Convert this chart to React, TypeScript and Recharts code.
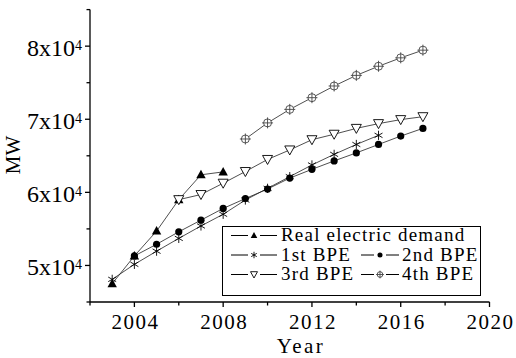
import React from 'react';
import { LineChart, Line, XAxis, YAxis, Legend } from 'recharts';

// ---- data ----
const years = [2003, 2004, 2005, 2006, 2007, 2008, 2009, 2010, 2011, 2012, 2013, 2014, 2015, 2016, 2017];
const realYears = [2003, 2004, 2005, 2006, 2007, 2008];
const realDemand = [47500, 51300, 54700, 59000, 62400, 62800];
const bpe1Years = [2003, 2004, 2005, 2006, 2007, 2008, 2009, 2010, 2011, 2012, 2013, 2014, 2015];
const bpe1 = [48100, 50150, 51950, 53700, 55400, 57000, 58950, 60550, 62150, 63750, 65200, 66550, 67800];
const bpe2Years = [2004, 2005, 2006, 2007, 2008, 2009, 2010, 2011, 2012, 2013, 2014, 2015, 2016, 2017];
const bpe2 = [51300, 52900, 54600, 56200, 57800, 59150, 60450, 61950, 63150, 64300, 65400, 66550, 67700, 68750];
const bpe3Years = [2006, 2007, 2008, 2009, 2010, 2011, 2012, 2013, 2014, 2015, 2016, 2017];
const bpe3 = [59000, 59700, 61250, 62850, 64500, 65800, 67200, 67950, 68750, 69400, 69950, 70350];
const bpe4Years = [2009, 2010, 2011, 2012, 2013, 2014, 2015, 2016, 2017];
const bpe4 = [67300, 69500, 71350, 72950, 74550, 76000, 77250, 78400, 79450];

const xTicks = [2002, 2004, 2006, 2008, 2010, 2012, 2014, 2016, 2018, 2020];
const yTicks = [45000, 50000, 55000, 60000, 65000, 70000, 75000, 80000, 85000];
const seriesNames = ['Real electric demand', '1st BPE', '2nd BPE', '3rd BPE', '4th BPE'];

const pick = (ys: number[], vs: number[], y: number) => {
  const i = ys.indexOf(y);
  return i >= 0 ? vs[i] : undefined;
};

const data = years.map((y) => ({
  year: y,
  real: pick(realYears, realDemand, y),
  bpe1: pick(bpe1Years, bpe1, y),
  bpe2: pick(bpe2Years, bpe2, y),
  bpe3: pick(bpe3Years, bpe3, y),
  bpe4: pick(bpe4Years, bpe4, y),
}));

const FONT = 'Liberation Serif, DejaVu Serif, serif';
const LINE = '#222';

// ---- marker shapes ----
const triUp = (cx: number, cy: number, s = 1) => (
  <path d={`M${cx},${cy - 5 * s} L${cx + 4.7 * s},${cy + 3.5 * s} L${cx - 4.7 * s},${cy + 3.5 * s} Z`} fill="#000" />
);
const asterisk = (cx: number, cy: number, s = 1) => {
  const r = 4.6 * s;
  const dx = r * Math.cos(Math.PI / 6);
  const dy = r * Math.sin(Math.PI / 6);
  return (
    <g stroke="#000" strokeWidth={0.9}>
      <line x1={cx} y1={cy - r} x2={cx} y2={cy + r} />
      <line x1={cx - dx} y1={cy - dy} x2={cx + dx} y2={cy + dy} />
      <line x1={cx - dx} y1={cy + dy} x2={cx + dx} y2={cy - dy} />
    </g>
  );
};
const dotFill = (cx: number, cy: number, s = 1) => <circle cx={cx} cy={cy} r={3.6 * s} fill="#000" />;
const triDown = (cx: number, cy: number, s = 1) => (
  <path d={`M${cx - 5 * s},${cy - 4 * s} L${cx + 5 * s},${cy - 4 * s} L${cx},${cy + 5 * s} Z`} fill="#fff" stroke="#000" strokeWidth={0.9} />
);
const circCross = (cx: number, cy: number, s = 1) => (
  <g stroke="#444" strokeWidth={0.9}>
    <circle cx={cx} cy={cy} r={4 * s} fill="#fff" />
    <line x1={cx} y1={cy - 5.5 * s} x2={cx} y2={cy + 5.5 * s} />
    <line x1={cx - 5.5 * s} y1={cy} x2={cx + 5.5 * s} y2={cy} />
  </g>
);

const makeDot = (fn: (cx: number, cy: number, s?: number) => React.ReactElement) => (props: any) => {
  const { cx, cy, index, value } = props;
  if (cx == null || cy == null || value == null || Number.isNaN(cy)) return <g key={`e${index}`} />;
  return <g key={`d${index}`}>{fn(cx, cy)}</g>;
};

// ---- axis ticks ----
const XTick = (props: any) => {
  const { x, y, payload } = props;
  const v = payload.value as number;
  const major = v % 4 === 0;
  return (
    <g>
      <line x1={x} y1={y} x2={x} y2={y + (major ? 5 : 3.5)} stroke="#000" strokeWidth={1.3} />
      {major && (
        <text x={x + 1} y={y + 26.5} textAnchor="middle" style={{ fontFamily: FONT, fontSize: '21px', letterSpacing: '1.5px' }} fill="#000">
          {v}
        </text>
      )}
    </g>
  );
};

const YTick = (props: any) => {
  const { x, y, payload } = props;
  const v = payload.value as number;
  const major = v % 10000 === 0;
  return (
    <g>
      <line x1={x - (major ? 5 : 3.5)} y1={y} x2={x} y2={y} stroke="#000" strokeWidth={1.3} />
      {major && (
        <text x={x - 8} y={y + 10} textAnchor="end" style={{ fontFamily: FONT, fontSize: '24px' }} fill="#000">
          <tspan style={{ fontSize: '24px' }}>{`${v / 10000}x10`}</tspan>
          <tspan dy={-6.5} style={{ fontSize: '14px' }}>4</tspan>
        </text>
      )}
    </g>
  );
};

// ---- legend ----
const LegendIcon = ({ x, y, w, fn }: { x: number; y: number; w: number; fn: (cx: number, cy: number, s?: number) => React.ReactElement }) => (
  <g>
    <line x1={x} y1={y} x2={x + w / 2 - 6} y2={y} stroke="#000" strokeWidth={1} />
    <line x1={x + w / 2 + 6} y1={y} x2={x + w} y2={y} stroke="#000" strokeWidth={1} />
    {fn(x + w / 2, y, 0.7)}
  </g>
);

const LegendBox = () => {
  const t = { style: { fontFamily: FONT, fontSize: '19px', letterSpacing: '1.2px' }, fill: '#000' } as any;
  return (
    <svg width={262} height={74} style={{ display: 'block', overflow: 'visible' }}>
      <rect x={0.5} y={0.5} width={258} height={69} fill="#fff" stroke="#000" strokeWidth={1} />
      <LegendIcon x={9} y={9.5} w={46} fn={triUp} />
      <text x={59} y={15} {...t}>{seriesNames[0]}</text>
      <LegendIcon x={9} y={29} w={46} fn={asterisk} />
      <text x={59} y={34.5} {...t}>{seriesNames[1]}</text>
      <LegendIcon x={139} y={29} w={38} fn={dotFill} />
      <text x={180} y={34.5} {...t}>{seriesNames[2]}</text>
      <LegendIcon x={9} y={48.5} w={46} fn={triDown} />
      <text x={59} y={54} {...t}>{seriesNames[3]}</text>
      <LegendIcon x={139} y={48.5} w={38} fn={circCross} />
      <text x={180} y={54} {...t}>{seriesNames[4]}</text>
    </svg>
  );
};

export default function App() {
  return (
    <div style={{ position: 'absolute', left: 0, top: 0, width: 516, height: 358, background: '#fff', fontFamily: FONT }}>
      <LineChart width={516} height={358} data={data} margin={{ top: 9.6, right: 26.5, bottom: 0, left: 0 }}>
        <XAxis
          type="number"
          dataKey="year"
          domain={[2002, 2020]}
          ticks={xTicks}
          interval={0}
          height={56}
          tickSize={0}
          tickMargin={0}
          tickLine={false}
          axisLine={{ stroke: '#000', strokeWidth: 1.3 }}
          tick={<XTick />}
          label={(() => (
            <text x={301} y={353} textAnchor="middle" style={{ fontFamily: FONT, fontSize: '21px', letterSpacing: '2.5px' }} fill="#000">
              Year
            </text>
          )) as any}
        />
        <YAxis
          type="number"
          domain={[45000, 85000]}
          ticks={yTicks}
          interval={0}
          width={90}
          tickSize={0}
          tickMargin={0}
          tickLine={false}
          axisLine={{ stroke: '#000', strokeWidth: 1.3 }}
          tick={<YTick />}
          label={(() => (
            <text x={20} y={155} textAnchor="middle" style={{ fontFamily: FONT, fontSize: '21px' }} fill="#000" transform="rotate(-90 20 155)">
              MW
            </text>
          )) as any}
        />
        <Line dataKey="real" stroke={LINE} strokeWidth={0.8} dot={makeDot(triUp)} isAnimationActive={false} legendType="none" />
        <Line dataKey="bpe1" stroke={LINE} strokeWidth={0.8} dot={makeDot(asterisk)} isAnimationActive={false} legendType="none" />
        <Line dataKey="bpe2" stroke={LINE} strokeWidth={0.8} dot={makeDot(dotFill)} isAnimationActive={false} legendType="none" />
        <Line dataKey="bpe3" stroke={LINE} strokeWidth={0.8} dot={makeDot(triDown)} isAnimationActive={false} legendType="none" />
        <Line dataKey="bpe4" stroke={LINE} strokeWidth={0.8} dot={makeDot(circCross)} isAnimationActive={false} legendType="none" />
        <Legend
          layout="horizontal"
          verticalAlign="middle"
          wrapperStyle={{ position: 'absolute', left: 222, top: 226, width: 262, height: 74 }}
          content={() => <LegendBox />}
        />
      </LineChart>
    </div>
  );
}
